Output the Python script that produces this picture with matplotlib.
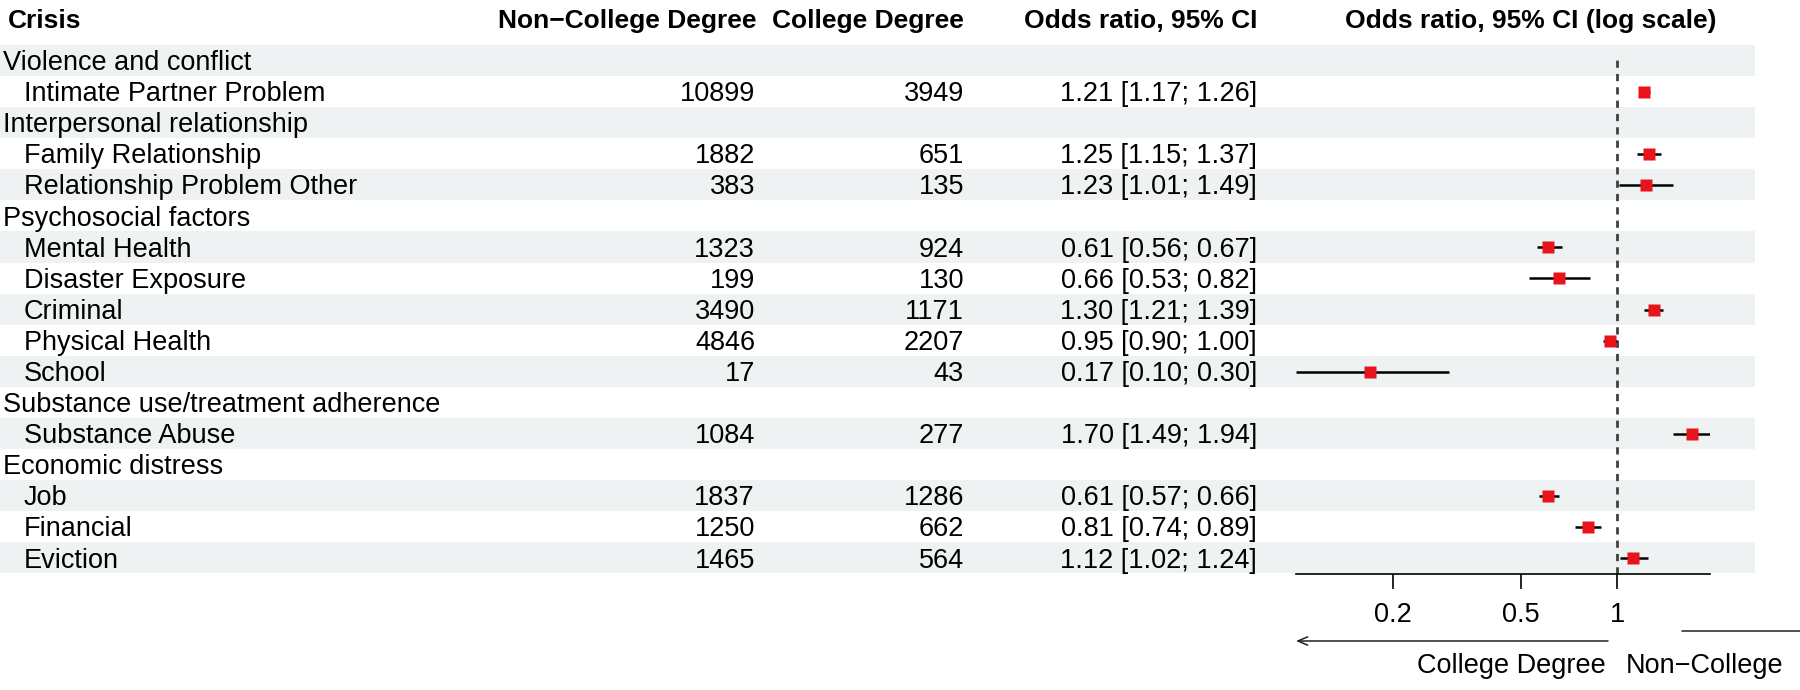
import numpy as np
import matplotlib.pyplot as plt
from matplotlib.ticker import FixedLocator, FixedFormatter, NullLocator

plt.rcParams['font.family'] = ['Liberation Sans', 'DejaVu Sans']

# data
groups = ['Violence and conflict', 'Interpersonal relationship', 'Psychosocial factors',
          'Substance use/treatment adherence', 'Economic distress']
crisis = ['Intimate Partner Problem', 'Family Relationship', 'Relationship Problem Other',
          'Mental Health', 'Disaster Exposure', 'Criminal', 'Physical Health', 'School',
          'Substance Abuse', 'Job', 'Financial', 'Eviction']
group_of = [0, 1, 1, 2, 2, 2, 2, 2, 3, 4, 4, 4]
non_college = [10899, 1882, 383, 1323, 199, 3490, 4846, 17, 1084, 1837, 1250, 1465]
college = [3949, 651, 135, 924, 130, 1171, 2207, 43, 277, 1286, 662, 564]
or_est = [1.21, 1.25, 1.23, 0.61, 0.66, 1.30, 0.95, 0.17, 1.70, 0.61, 0.81, 1.12]
ci_lo = [1.17, 1.15, 1.01, 0.56, 0.53, 1.21, 0.90, 0.10, 1.49, 0.57, 0.74, 1.02]
ci_hi = [1.26, 1.37, 1.49, 0.67, 0.82, 1.39, 1.00, 0.30, 1.94, 0.66, 0.89, 1.24]
ticks = [0.2, 0.5, 1]
tick_labels = ['0.2', '0.5', '1']

# build rows: group heading then its items
rows = []
last = None
for i, g in enumerate(group_of):
    if g != last:
        rows.append(('group', g))
        last = g
    rows.append(('item', i))
n_rows = len(rows)

W, H = 1800, 690
fig = plt.figure(figsize=(18, 6.9), dpi=100)

row0 = 60.5     # pixel centre of first row
row_h = 31.09   # pixel height of a row
bg = fig.add_axes([0, 0, 1, 1])
bg.set_xlim(0, W)
bg.set_ylim((H - row0) / row_h, -row0 / row_h)
bg.axis('off')

def prow(px):
    return (px - row0) / row_h

band = '#EEF2F2'
fs = 19.5
hfs = 19
for r in range(0, n_rows, 2):
    bg.axhspan(r - 0.5, r + 0.5, xmin=0, xmax=1755 / W, color=band, lw=0, zorder=0)

# headers
hy = prow(21)
bg.text(8, hy, 'Crisis', fontsize=hfs, fontweight='bold', va='center', ha='left')
bg.text(757, hy, 'Non\u2212College Degree', fontsize=hfs, fontweight='bold', va='center', ha='right')
bg.text(964, hy, 'College Degree', fontsize=hfs, fontweight='bold', va='center', ha='right')
bg.text(1257, hy, 'Odds ratio, 95% CI', fontsize=hfs, fontweight='bold', va='center', ha='right')
bg.text(1531, hy, 'Odds ratio, 95% CI (log scale)', fontsize=hfs, fontweight='bold',
        va='center', ha='center')

off = 0.31
item_rows = []
for r, (kind, k) in enumerate(rows):
    y = r + off
    if kind == 'group':
        bg.text(3, y, groups[k], fontsize=fs, va='baseline', ha='left')
    else:
        item_rows.append(r)
        bg.text(24, y, crisis[k], fontsize=fs, va='baseline', ha='left')
        bg.text(755, y, str(non_college[k]), fontsize=fs, va='baseline', ha='right')
        bg.text(964, y, str(college[k]), fontsize=fs, va='baseline', ha='right')
        bg.text(1257, y, f'{or_est[k]:.2f} [{ci_lo[k]:.2f}; {ci_hi[k]:.2f}]',
                fontsize=fs, va='baseline', ha='right')

# forest panel
top_px, bot_px = 45, 574
fa = fig.add_axes([1296 / W, (H - bot_px) / H, 414 / W, (bot_px - top_px) / H])
fa.set_xscale('log')
fa.set_xlim(min(ci_lo), max(ci_hi))
fa.set_ylim(n_rows - 0.5, -0.5)
fa.patch.set_alpha(0)
for s in ['top', 'left', 'right']:
    fa.spines[s].set_visible(False)
fa.spines['bottom'].set_linewidth(1.2)
fa.set_yticks([])
fa.xaxis.set_major_locator(FixedLocator(ticks))
fa.xaxis.set_major_formatter(FixedFormatter(tick_labels))
fa.xaxis.set_minor_locator(NullLocator())
fa.tick_params(axis='x', length=11, width=1.2, pad=9.5, labelsize=fs)

fa.axvline(1, ymin=0, ymax=(bot_px - 55) / (bot_px - top_px), color='#404040',
           lw=2, ls=(0, (2.6, 2.2)), zorder=1)
fa.hlines(item_rows, ci_lo, ci_hi, color='black', lw=1.8, zorder=2)
fa.plot(or_est, item_rows, 's', color='#E8141C', ms=8.3, mec='none', zorder=3)

# direction arrows
ay = prow(641)
bg.annotate('', xy=(1296, ay), xytext=(1608, ay),
            arrowprops=dict(arrowstyle='->,head_length=0.7,head_width=0.3', lw=1.1,
                            color='#222222', shrinkA=0, shrinkB=0))
ry = prow(631)
bg.annotate('', xy=(1950, ry), xytext=(1682, ry), annotation_clip=False,
            arrowprops=dict(arrowstyle='->', lw=1.1, color='#222222', shrinkA=0, shrinkB=0))
ly = prow(666)
bg.text(1606, ly, 'College Degree', fontsize=fs, va='center', ha='right')
bg.text(1626, ly, 'Non\u2212College', fontsize=fs, va='center', ha='left')

fig.savefig('out.png', dpi=100)
